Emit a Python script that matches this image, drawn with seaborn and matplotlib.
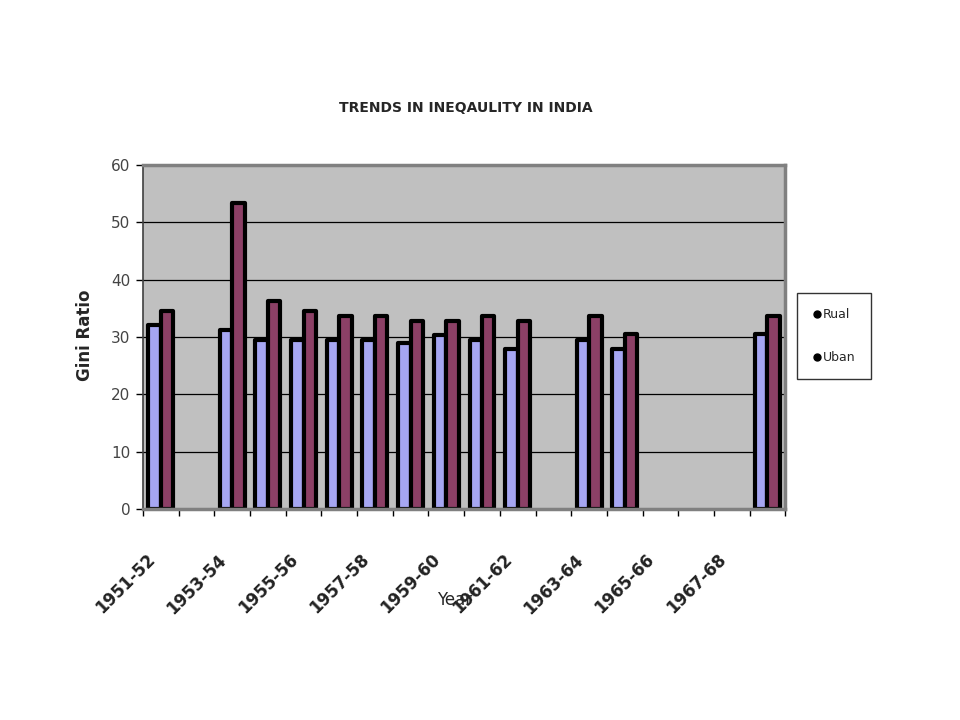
import numpy as np
import pandas as pd
import matplotlib
matplotlib.use("Agg")
import matplotlib.pyplot as plt
from matplotlib.lines import Line2D
import seaborn as sns

# Data (Gini ratio, %), empty years have no bars
years = ["1951-52", "1952-53", "1953-54", "1954-55", "1955-56", "1956-57",
         "1957-58", "1958-59", "1959-60", "1960-61", "1961-62", "1962-63",
         "1963-64", "1964-65", "1965-66", "1966-67", "1967-68", "1968-69"]
rural = [32.0, np.nan, 31.2, 29.5, 29.5, 29.5, 29.5, 28.9, 30.3, 29.5, 27.9,
         np.nan, 29.5, 27.9, np.nan, np.nan, np.nan, 30.5]
urban = [34.6, np.nan, 53.3, 36.2, 34.6, 33.7, 33.7, 32.8, 32.8, 33.7, 32.8,
         np.nan, 33.7, 30.5, np.nan, np.nan, np.nan, 33.7]
series_names = ["Rual", "Uban"]
series_colors = {"Rual": "#9999FF", "Uban": "#993366"}

# Long format table for seaborn
df = pd.DataFrame({"Year": years * 2,
                   "Value": rural + urban,
                   "Series": [series_names[0]] * len(years) + [series_names[1]] * len(years)})

sns.set_style("white")

fig = plt.figure(figsize=(9.6, 7.2), dpi=100)
ax = fig.add_axes([0.149, 0.293, 0.669, 0.478])
ax.set_facecolor("#C0C0C0")

sns.barplot(data=df, x="Year", y="Value", hue="Series", order=years,
            hue_order=series_names, palette=series_colors, width=0.7,
            errorbar=None, edgecolor="black", linewidth=3.0, legend=False, ax=ax)
for p in ax.patches:
    p.set_joinstyle("round")

# Axes limits, grid
ax.set_ylim(0, 60)
ax.set_xlim(-0.5, len(years) - 0.5)
ax.set_yticks(range(0, 61, 10))
ax.yaxis.grid(True, color="black", linewidth=0.9)
ax.set_axisbelow(True)

# Tick marks at category boundaries, labels every other year
# (labels sit near the left edge of their category, like the original)
ax.set_xticks(np.arange(-0.5, len(years), 1.0), minor=True)
ax.set_xticks(np.arange(0, len(years), 2) - 0.42)
ax.set_xticklabels(years[::2], rotation=45, ha="right", rotation_mode="anchor",
                   fontsize=12, fontweight="bold", color="#222222")
ax.tick_params(axis="x", which="major", length=0, pad=30)
ax.tick_params(axis="x", which="minor", length=5, width=1, color="black", direction="out", bottom=True)
ax.tick_params(axis="y", length=5, width=1, color="black", direction="out", left=True,
               labelsize=11, labelcolor="#444444", pad=4)
ax.set_xlabel("")
ax.set_ylabel("")

for side in ["top", "right", "bottom"]:
    ax.spines[side].set_color("#808080")
    ax.spines[side].set_linewidth(2.5)
ax.spines["left"].set_color("#404040")
ax.spines["left"].set_linewidth(1.2)

# Titles and axis labels
fig.text(0.485, 0.85, "TRENDS IN INEQAULITY IN INDIA", ha="center", va="center",
         fontsize=10, fontweight="bold")
fig.text(0.474, 0.167, "Year", ha="center", va="center", fontsize=12)
fig.text(0.089, 0.535, "Gini Ratio", ha="center", va="center", rotation=90,
         fontsize=12, fontweight="bold")

# Legend
handles = [Line2D([0], [0], marker="o", color="black", linestyle="none", markersize=5)
           for _ in series_names]
fig.legend(handles, series_names, loc="upper left", bbox_to_anchor=(0.830, 0.593),
           frameon=True, fancybox=False, edgecolor="black", fontsize=9,
           labelspacing=2.4, handletextpad=0.1, borderpad=1.2, handlelength=0.8,
           borderaxespad=0)

plt.savefig("out.png", dpi=100)
